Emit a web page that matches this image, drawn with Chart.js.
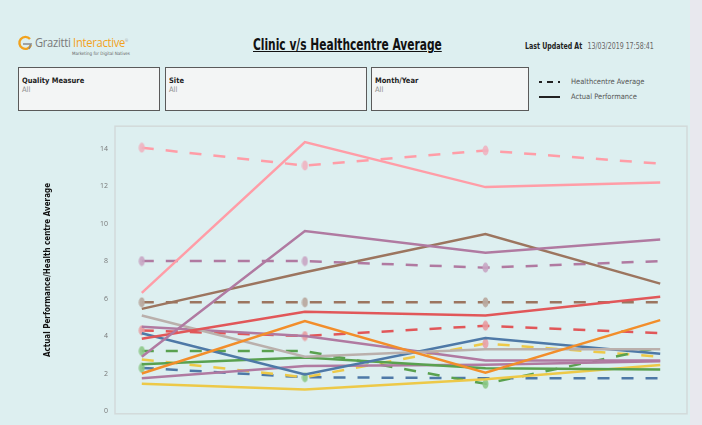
<!DOCTYPE html>
<html>
<head>
<meta charset="utf-8">
<script src="https://cdn.jsdelivr.net/npm/chart.js@4.4.1/dist/chart.umd.min.js"></script>
<style>
  body { margin: 0; width: 702px; height: 425px; overflow: hidden; background: #e8e8ee;
         font-family: "Liberation Sans Narrow", "DejaVu Sans Condensed", sans-serif; }
  #page { position: absolute; left: 0; top: 0; width: 690px; height: 425px; background: #ddeff0; }
  .abs { position: absolute; white-space: nowrap; }
  #logoTxt { left: 35px; top: 34px; font-family: "Open Sans", sans-serif; font-size: 12px; color: #7a7a7a;
             letter-spacing: -0.3px; transform: scaleX(0.93); transform-origin: left; }
  #logoTxt span { color: #f2a21c; }
  #logoTxt sup { font-size: 4px; color: #999; }
  #tagline { left: 72px; top: 51px; font-size: 4.5px; color: #666; }
  #title { left: 253px; top: 36px; font-size: 15px; font-weight: bold; color: #111; text-decoration: underline;
           transform: scaleX(0.79); transform-origin: left; }
  #updated { left: 525px; top: 41px; font-size: 8.5px; color: #222; transform: scaleX(0.82); transform-origin: left; }
  #updated b { margin-right: 4px; }
  #updated span { color: #666; }
  .filter { position: absolute; top: 67px; height: 44px; background: #f3f5f5; border: 1px solid #5a5a5a; box-sizing: border-box; }
  .filter .lbl { position: absolute; left: 3px; top: 8px; font-size: 7.5px; font-weight: bold; color: #222; }
  .filter .val { position: absolute; left: 3px; top: 17px; font-size: 7.5px; color: #8a8a8a; }
  .legtxt { font-size: 7.5px; color: #555; }
  #chartWrap { position: absolute; left: 0; top: 115px; width: 702px; height: 310px; }
</style>
</head>
<body>
<div id="page"></div>

<svg class="abs" style="left:17px;top:35px" width="16" height="16" viewBox="0 0 16 16">
  <path d="M13 4 A6 6 0 1 0 14 10" fill="none" stroke="#f2a21c" stroke-width="2.4"/>
  <path d="M6 9 L14 9 L12 14" fill="none" stroke="#8a8a8a" stroke-width="1.6"/>
</svg>
<div id="logoTxt" class="abs">Grazitti <span>Interactive</span><sup>®</sup></div>
<div id="tagline" class="abs">Marketing for Digital Natives</div>

<div id="title" class="abs">Clinic v/s Healthcentre Average</div>
<div id="updated" class="abs"><b>Last Updated At</b> <span>13/03/2019 17:58:41</span></div>

<div class="filter" style="left:18px;width:142px"><div class="lbl">Quality Measure</div><div class="val">All</div></div>
<div class="filter" style="left:165px;width:202px"><div class="lbl">Site</div><div class="val">All</div></div>
<div class="filter" style="left:371px;width:158px"><div class="lbl">Month/Year</div><div class="val">All</div></div>

<svg class="abs" style="left:537px;top:77px" width="30" height="25">
  <line x1="2" y1="5" x2="23" y2="5" stroke="#222" stroke-width="2" stroke-dasharray="3 5 6 5 3"/>
  <line x1="2" y1="20" x2="23" y2="20" stroke="#222" stroke-width="2"/>
</svg>
<div class="abs legtxt" style="left:571px;top:77px">Healthcentre Average</div>
<div class="abs legtxt" style="left:571px;top:92px">Actual Performance</div>

<div id="chartWrap"><canvas id="chart" width="702" height="310"></canvas></div>

<script>
// ---- data ----
const months    = ['Feb', 'Mar', 'Apr', 'May'];
const dayOffset = [0, 28, 59, 89];
const yTicks    = [0, 2, 4, 6, 8, 10, 12, 14];

// actual performance (solid lines)
const actPink   = [6.3, 14.35, 11.95, 12.2];
const actPurple = [2.9, 9.6, 8.45, 9.15];
const actBrown  = [5.45, 7.4, 9.45, 6.8];
const actRed    = [3.85, 5.3, 5.1, 6.1];
const actOrange = [2.0, 4.8, 2.05, 4.85];
const actGray   = [5.1, 2.9, 3.3, 3.3];
const actBlue   = [4.15, 1.95, 3.9, 3.05];
const actGreen  = [2.5, 2.85, 2.28, 2.22];
const actYellow = [1.45, 1.15, 1.7, 2.45];
const actMauve  = [4.5, 4.0, 2.7, 2.7];
const actLilac  = [1.75, 2.4, 2.47, 2.65];

// healthcentre average (dashed lines)
const avgPink   = [14.05, 13.1, 13.9, 13.2];
const avgPurple = [8.0, 8.0, 7.65, 8.0];
const avgBrown  = [5.8, 5.8, 5.8, 5.8];
const avgRed    = [4.3, 4.0, 4.55, 4.15];
const avgGreen  = [3.2, 3.2, 1.45, 3.4];
const avgYellow = [2.75, 1.8, 3.6, 2.9];
const avgBlue   = [2.3, 1.8, 1.75, 1.75];

// ---- helpers ----
const pts = (vals) => vals.map((v, i) => ({ x: dayOffset[i], y: v }));

// little oval markers on some of the average points
function oval(color) {
  const c = document.createElement('canvas');
  c.width = 7; c.height = 11;
  const g = c.getContext('2d');
  g.fillStyle = color;
  g.beginPath();
  g.ellipse(3.5, 5.5, 3, 5, 0, 0, Math.PI * 2);
  g.fill();
  return c;
}

const solid = (vals, color) => ({
  data: pts(vals), borderColor: color, borderWidth: 2.5, pointRadius: 0, tension: 0
});
const dashed = (vals, color, marks, markColor) => ({
  data: pts(vals), borderColor: color, borderWidth: 2.5, borderDash: [12, 12], tension: 0,
  pointRadius: marks.map(m => (m ? 4 : 0)),
  pointStyle: oval(markColor)
});

const areaBorder = {
  id: 'areaBorder',
  beforeDatasetsDraw(chart) {
    const { ctx, chartArea: a } = chart;
    ctx.save();
    ctx.strokeStyle = '#d2dada';
    ctx.lineWidth = 1.5;
    ctx.strokeRect(a.left, a.top, a.right - a.left, a.bottom - a.top);
    ctx.restore();
  }
};

new Chart(document.getElementById('chart'), {
  type: 'line',
  data: {
    datasets: [
      solid(actPink,   '#ff9da7'),
      solid(actPurple, '#b07aa1'),
      solid(actBrown,  '#9c755f'),
      solid(actRed,    '#e15759'),
      solid(actOrange, '#f28e2b'),
      solid(actGray,   '#bab0ac'),
      solid(actBlue,   '#4e79a7'),
      solid(actGreen,  '#59a14f'),
      solid(actYellow, '#edc948'),
      solid(actMauve,  '#b07aa1'),
      solid(actLilac,  '#b07aa1'),
      dashed(avgPink,   '#ff9da7', [1, 1, 1, 0], 'rgba(240,178,192,0.9)'),
      dashed(avgPurple, '#b07aa1', [1, 1, 1, 0], 'rgba(200,165,195,0.9)'),
      dashed(avgBrown,  '#9c755f', [1, 1, 1, 0], 'rgba(185,170,160,0.95)'),
      dashed(avgRed,    '#e15759', [1, 1, 1, 0], 'rgba(232,155,160,0.9)'),
      dashed(avgGreen,  '#59a14f', [1, 0, 1, 0], 'rgba(140,200,135,0.9)'),
      dashed(avgYellow, '#edc948', [0, 0, 1, 0], 'rgba(232,160,168,0.9)'),
      dashed(avgBlue,   '#4e79a7', [1, 1, 0, 0], 'rgba(140,200,135,0.9)')
    ]
  },
  options: {
    responsive: false,
    animation: false,
    events: [],
    layout: { padding: { left: 0, right: 15, top: 10, bottom: 8 } },
    plugins: { legend: { display: false }, tooltip: { enabled: false } },
    scales: {
      x: { type: 'linear', min: -4.6, max: 93.6, display: false },
      y: {
        min: -0.15, max: 15.2,
        afterFit(s) { s.width = 115; },
        afterBuildTicks(s) { s.ticks = yTicks.map(v => ({ value: v })); },
        grid: { display: false, drawTicks: false },
        border: { display: false },
        ticks: { padding: 7, color: '#777', font: { family: 'Open Sans', size: 7 } },
        title: {
          display: true,
          text: 'Actual Performance/Health centre Average',
          color: '#111',
          padding: { top: 43 },
          font: { family: '"Liberation Sans Narrow", "DejaVu Sans Condensed", sans-serif', size: 8, weight: 'bold' }
        }
      }
    }
  },
  plugins: [areaBorder]
});
</script>
</body>
</html>
